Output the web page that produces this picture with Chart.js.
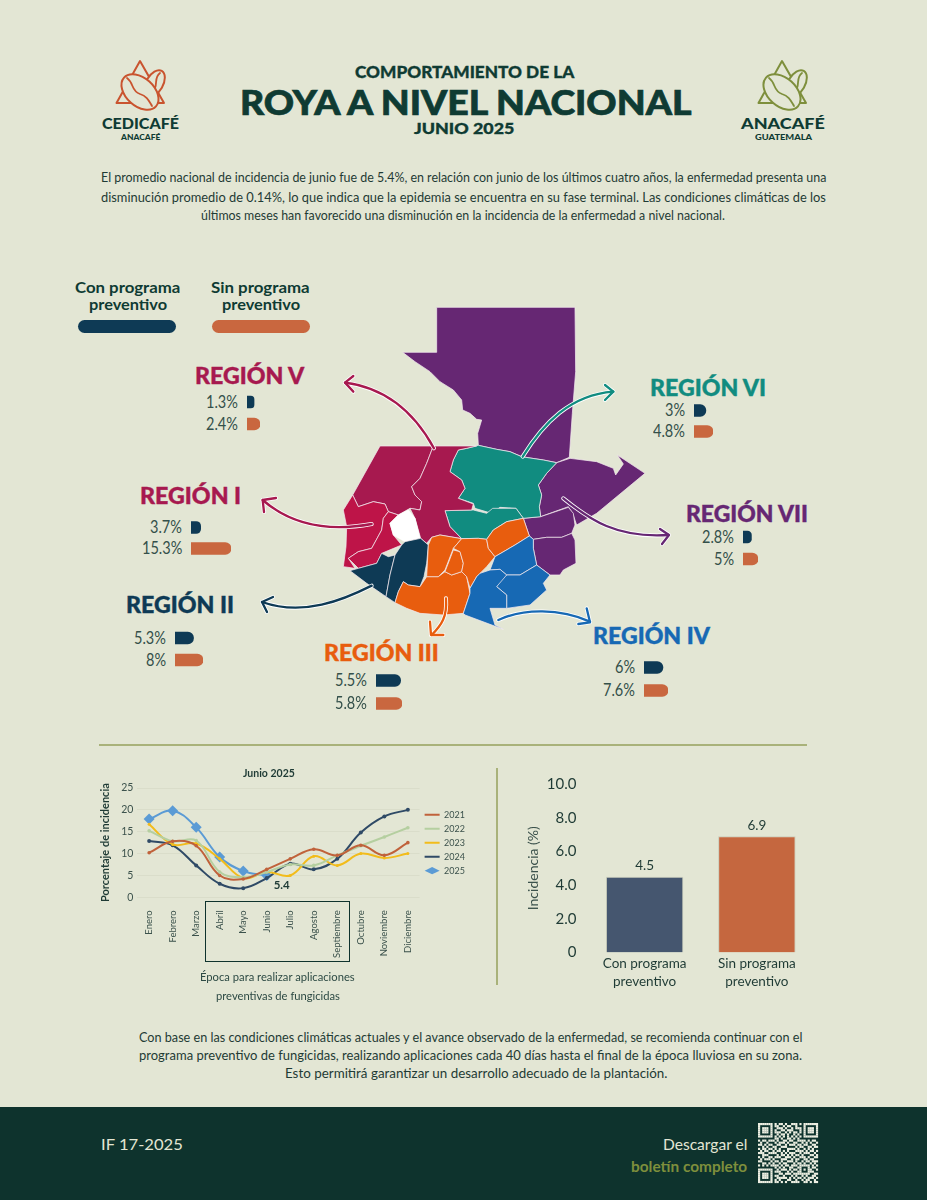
<!DOCTYPE html>
<html><head><meta charset="utf-8">
<style>
html,body{margin:0;padding:0;background:#E3E6D4}
#page{position:relative;width:927px;height:1200px;overflow:hidden;background:#E3E6D4;font-family:Lato,sans-serif;color:#1F3B35}
.t{position:absolute;white-space:nowrap;line-height:1}
canvas{position:absolute}
svg{position:absolute;left:0;top:0}
</style>
<script src="https://cdn.jsdelivr.net/npm/chart.js@4/dist/chart.umd.min.js"></script>
</head><body><div id="page">
<div style="position:absolute;left:0;top:1107px;width:927px;height:93px;background:#0E332D"></div>
<div style="position:absolute;left:99px;top:744px;width:708px;height:1.5px;background:#A9B27A"></div>
<div style="position:absolute;left:496px;top:768px;width:1.5px;height:217px;background:#A9B27A"></div>
<div style="position:absolute;left:205px;top:901px;width:143px;height:59px;border:1.5px solid #0F332D"></div>
<div style="position:absolute;left:78px;top:320px;width:98px;height:13px;border-radius:6.5px;background:#0E3A55"></div>
<div style="position:absolute;left:212px;top:320px;width:98px;height:13px;border-radius:6.5px;background:#C9673F"></div>

<svg width="927" height="1200" viewBox="0 0 927 1200" id="art">
<defs>
<g id="logo" fill="none" stroke-linejoin="round" stroke-linecap="round">
  <path d="M0,0 L24,42 L-23.5,42 Z" stroke-width="2"/>
  <ellipse cx="14.5" cy="22.5" rx="8.5" ry="14.5" transform="rotate(30 14.5 22.5)" fill="#E3E6D4" stroke-width="2"/>
  <path d="M20,12 C12,18 21,26 9,34" stroke-width="1.8"/>
  <ellipse cx="0" cy="31" rx="21.5" ry="14" transform="rotate(42 0 31)" fill="#E3E6D4" stroke-width="2"/>
  <path d="M-13,17 C-6,22 -9,30 0,33 C7,35 9,40 12,45" stroke-width="1.8"/>
</g>
</defs>
<use href="#logo" x="140" y="61" style="stroke:#C9542F"/>
<use href="#logo" x="782" y="61" style="stroke:#7E8F3C"/>
<g transform="translate(330,300) scale(0.33333)" stroke="#F3E9EE" stroke-width="2.2" stroke-linejoin="round">
  <g fill="#662773">
    <polygon points="320,22 735,22 737,215 727,340 718,472 680,488 640,480 600,474 575,470 540,455 500,448 445,436 443,400 455,360 440,358 420,340 398,330 395,300 370,270 330,245 300,215 255,185 218,157 320,157"/>
    <polygon points="680,488 720,475 800,485 850,505 857,525 880,492 862,465 945,520 800,640 740,675 728,640 715,620 632,650 628,620 635,585 625,555 650,520"/>
    <polygon points="580,655 632,650 715,622 730,640 735,675 725,700 695,712 650,712 610,718 598,708"/>
    <polygon points="610,718 650,712 695,712 725,700 735,720 738,790 700,810 690,825 660,825 620,795 610,745"/>
  </g>
  <g fill="#118C80">
    <polygon points="445,436 500,448 540,455 575,470 600,474 640,480 680,488 650,520 625,555 635,585 628,620 632,650 580,655 558,625 510,622 485,640 435,625 430,610 385,595 405,565 395,540 360,515 370,480 385,450 410,445"/>
    <polygon points="345,632 430,630 470,640 488,625 558,625 580,655 530,665 490,690 470,718 445,715 395,716 360,680"/>
  </g>
  <g fill="#A7194F">
    <polygon points="150,438 310,438 290,490 270,535 245,560 255,585 275,605 270,630 240,625 205,645 175,635 165,612 130,605 85,620 68,585"/>
    <polygon points="310,438 440,438 410,445 385,450 370,480 360,515 395,540 405,565 385,595 430,612 425,630 345,632 360,680 395,716 330,705 305,712 290,730 272,715 255,655 240,625 270,630 275,605 255,585 245,560 270,535 290,490"/>
  </g>
  <g fill="#BE1448">
    <polygon points="68,585 85,620 130,605 165,612 175,635 160,655 155,690 125,745 85,755 55,775 75,805 40,800 48,740 50,680 40,630"/>
    <polygon points="175,635 205,645 180,670 190,705 215,735 155,760 140,790 85,805 55,775 85,755 125,745 155,690 160,655"/>
  </g>
  <polygon fill="#FFFFFF" stroke="#FFFFFF" points="235,630 255,655 270,715 225,725 190,705 180,670 205,645"/>
  <g fill="#0E3A55">
    <polygon points="60,812 85,805 140,790 155,760 175,770 195,765 180,825 168,890 110,850"/>
    <polygon points="215,735 225,725 272,715 295,735 290,790 282,830 270,860 235,855 220,845 205,875 195,908 168,890 180,825 195,765"/>
  </g>
  <g fill="#E85D0E">
    <polygon points="205,875 220,845 235,855 270,860 290,830 325,830 345,815 365,825 395,815 410,830 420,880 400,940 340,945 270,940 230,925 195,908"/>
    <polygon points="305,712 330,705 395,716 370,745 345,810 325,830 290,830 295,735"/>
    <polygon points="370,750 390,755 400,790 395,815 365,825 345,815"/>
    <polygon points="395,716 445,715 470,718 475,745 495,770 470,800 440,830 420,865 410,830 395,815 400,790 390,755 370,745"/>
    <polygon points="470,718 490,690 530,665 580,655 598,708 555,735 495,770 475,745"/>
  </g>
  <g fill="#1769B4">
    <polygon points="495,770 555,735 598,708 610,718 610,745 620,795 570,825 530,825 510,808 480,810"/>
    <polygon points="530,825 570,825 620,795 660,825 640,850 650,870 600,915 530,925 530,885 500,860 510,835"/>
    <polygon points="420,865 440,830 450,820 480,810 510,808 530,825 500,860 530,885 530,925 480,925 495,975 520,988 405,945 400,940 420,880"/>
  </g>
</g>
<g transform="translate(330,300) scale(0.33333)" fill="none" stroke-linecap="round" stroke-linejoin="round" id="arrows"></g>
<g id="qr"></g>
</svg>
<canvas id="lineChart" style="left:63px;top:762px" width="412" height="209"></canvas>
<canvas id="barChart" style="left:525px;top:763px" width="288" height="230"></canvas>
</div>
<script>
const months=["Enero","Febrero","Marzo","Abril","Mayo","Junio","Julio","Agosto","Septiembre","Octubre","Noviembre","Diciembre"];
const y2021=[10.2,12.8,11.8,5,4.2,6.4,8.8,11,9.6,11.9,9.6,12.5];
const y2022=[15.2,12.8,13,5.8,4.6,5.8,7.5,7.3,9.6,11.8,13.8,15.9];
const y2023=[16.7,12.1,12.3,8.8,4.4,5.8,5,9.4,7.3,10,9,10];
const y2024=[12.9,11.9,7.3,3.1,2.1,4.4,7.7,6.4,8.8,14.8,18.5,20];
const y2025=[17.9,19.8,16,9.2,6,5,null,null,null,null,null,null];
const lineTicks=[0,5,10,15,20,25];
const programCats=[["Con programa","preventivo"],["Sin programa","preventivo"]];
const programVals=[4.5,6.9];
const regionNames=["REGIÓN I","REGIÓN II","REGIÓN III","REGIÓN IV","REGIÓN V","REGIÓN VI","REGIÓN VII"];
const regionCon=[3.7,5.3,5.5,6,1.3,3,2.8];
const regionSin=[15.3,8,5.8,7.6,2.4,4.8,5];
const regionLabelsCon=["3.7%","5.3%","5.5%","6%","1.3%","3%","2.8%"];
const regionLabelsSin=["15.3%","8%","5.8%","7.6%","2.4%","4.8%","5%"];

/* layout of the region blocks (separate from the data) */
const regionLayout=[
 {hx:190,hy:496,hw:101,c:"#A7194F",bx:191,y1:527,y2:548,len:40},
 {hx:180,hy:605,hw:108,c:"#0E3A55",bx:175,y1:638,y2:660,len:28},
 {hx:381,hy:653,hw:115,c:"#E85D0E",bx:376,y1:680,y2:703,len:26},
 {hx:651,hy:636,hw:117,c:"#1769B4",bx:644,y1:667,y2:690,len:24},
 {hx:249,hy:376,hw:109,c:"#A7194F",bx:247,y1:402,y2:424,len:13},
 {hx:708,hy:388,hw:116,c:"#118C80",bx:694,y1:410,y2:431,len:19},
 {hx:747,hy:514,hw:122,c:"#662773",bx:743,y1:537,y2:559,len:15}
];
const page=document.getElementById('page');
function txt(s,o){
  const e=document.createElement('div');e.className='t';e.textContent=s;
  e.style.fontSize=o.size+'px';e.style.fontWeight=o.weight||400;e.style.color=o.color||'#1F3B35';
  if(o.bold)e.style.webkitTextStroke=o.bold+'px '+(o.color||'#1F3B35');
  page.appendChild(e);
  const w=e.offsetWidth,a=o.a||'c';
  const target=o.w||(o.sx?w*o.sx:w);
  const left=a==='l'?o.x:a==='r'?o.x-target:o.x-target/2;
  e.style.left=left+'px';e.style.top=(o.y-o.size/2)+'px';
  e.style.transformOrigin='left center';
  if(target!==w)e.style.transform='scaleX('+(target/w)+')';
  return e;
}
const H='#0F3B33';
txt("COMPORTAMIENTO DE LA",{x:464,y:72,size:16.5,weight:900,color:H,w:219,bold:.3});
txt("ROYA A NIVEL NACIONAL",{x:465,y:101,size:35,weight:900,color:H,w:451,bold:.7});
txt("JUNIO 2025",{x:464,y:129,size:14.5,weight:900,color:H,w:101,bold:.3});
txt("CEDICAFÉ",{x:140,y:123,size:15,weight:900,color:H,w:77});
txt("ANACAFÉ",{x:140,y:137,size:8,weight:900,color:H,w:39});
txt("ANACAFÉ",{x:783,y:123,size:15,weight:900,color:H,w:84});
txt("GUATEMALA",{x:783,y:137,size:8,weight:900,color:H,w:57});
const bc='#1F3B35';
txt("El promedio nacional de incidencia de junio fue de 5.4%, en relación con junio de los últimos cuatro años, la enfermedad presenta una",{x:101,a:'l',y:177,size:13,w:725,color:bc});
txt("disminución promedio de 0.14%, lo que indica que la epidemia se encuentra en su fase terminal. Las condiciones climáticas de los",{x:101,a:'l',y:197,size:13,w:725,color:bc});
txt("últimos meses han favorecido una disminución en la incidencia de la enfermedad a nivel nacional.",{x:201,a:'l',y:215,size:13,w:524,color:bc});
txt("Con programa",{x:127.5,y:288,size:15.5,weight:700,color:H,w:105});
txt("preventivo",{x:127.5,y:305,size:15.5,weight:700,color:H,w:78});
txt("Sin programa",{x:260.5,y:288,size:15.5,weight:700,color:H,w:99});
txt("preventivo",{x:260.5,y:305,size:15.5,weight:700,color:H,w:78});
txt("Con base en las condiciones climáticas actuales y el avance observado de la enfermedad, se recomienda continuar con el",{x:139,a:'l',y:1037,size:13,w:663,color:bc});
txt("programa preventivo de fungicidas, realizando aplicaciones cada 40 días hasta el final de la época lluviosa en su zona.",{x:139,a:'l',y:1055,size:13,w:663,color:bc});
txt("Esto permitirá garantizar un desarrollo adecuado de la plantación.",{x:285,a:'l',y:1073,size:13,w:383,color:bc});
txt("Junio 2025",{x:269,y:773,size:10.5,weight:700,color:bc});
txt("Época para realizar aplicaciones",{x:277.5,y:976,size:11,color:'#2d4a44',w:155});
txt("preventivas de fungicidas",{x:277.5,y:995,size:11,color:'#2d4a44',w:124});
txt("IF 17-2025",{x:101,a:'l',y:1144,size:16,color:'#E3E6D4',w:82});
txt("Descargar el",{x:747,a:'r',y:1144,size:15,color:'#E3E6D4',w:84});
txt("boletín completo",{x:747,a:'r',y:1166,size:15,weight:700,color:'#7E8F3C',w:116});

/* arrows */
const arrows=[
 {c:"#A7194F",d:"M312,445 C260,350 180,265 45,248",h:"M70,228 L45,248 L70,275"},
 {c:"#118C80",d:"M578,470 C640,370 720,285 850,275",h:"M825,255 L850,275 L825,300"},
 {c:"#662773",d:"M700,595 C780,660 860,715 1015,705",h:"M990,687 L1017,705 L996,732"},
 {c:"#A7194F",d:"M125,672 C0,695 -110,680 -202,600",h:"M-162,594 L-202,600 L-198,636"},
 {c:"#0E3A55",d:"M125,857 C40,900 -80,950 -204,906",h:"M-171,891 L-204,906 L-189,936"},
 {c:"#E85D0E",d:"M348,895 C352,950 335,975 305,1005",h:"M340,1005 L303,1005 L300,965"},
 {c:"#1769B4",d:"M505,960 C580,925 690,925 780,965",h:"M770,925 L780,967 L745,972"}
];
const ag=document.getElementById('arrows');
let am='';
for(const a of arrows){
  am+=`<path d="${a.d}" stroke="#fff" stroke-width="12"/><path d="${a.h}" stroke="#fff" stroke-width="12"/>`;
}
for(const a of arrows){
  am+=`<path d="${a.d}" stroke="${a.c}" stroke-width="7"/><path d="${a.h}" stroke="${a.c}" stroke-width="7"/>`;
}
ag.innerHTML=am;

/* QR decoration */
const qrRows=["11111110101101001110101111111","10000010110010110010001000001","10111010011101001011101011101","10111010100110111000101011101","10111010111001010110101011101","10000010010110100101001000001","11111110101010101010101111111","00000000110100110101000000000","10110111010011011001111010110","01001000101110100110010101001","11010110011001011101101100110","00101001100111000010110011011","10110110101000111101001010100","01011001011010100011110101101","11100111100101011100101110010","00111000010110101011010001101","10100110111001110100111010011","01011101000111001011001101100","11000010110100111010010110111","00110101001011000101101001010","10101011110101101110111110101","00000000101010011001100010110","11111110010111010110101011001","10000010111000101001100011100","10111010001101110111111110011","10111010110010001010010100110","10111010011111010101101011101","10000010101000110010010110010","11111110110101001111001101011"];
let qm='';const cs=60/29;
qrRows.forEach((r,i)=>{[...r].forEach((v,j)=>{if(v==='1')qm+=`<rect x="${758+j*cs}" y="${1123+i*cs}" width="${cs+.1}" height="${cs+.1}" fill="#EDEFE2"/>`;});});
document.getElementById('qr').innerHTML=qm;

/* regions */
Chart.defaults.font.family='Lato, sans-serif';
Chart.defaults.animation=false;
regionNames.forEach((n,i)=>{
  const L=regionLayout[i];
  txt(n,{x:L.hx,y:L.hy,size:22.5,weight:900,color:L.c,w:L.hw,bold:.4});
  txt(regionLabelsCon[i],{x:L.bx-9,a:'r',y:L.y1,size:16.5,weight:400,sx:.88,color:'#34504A'});
  txt(regionLabelsSin[i],{x:L.bx-9,a:'r',y:L.y2,size:16.5,weight:400,sx:.88,color:'#34504A'});
  const gap=L.y2-L.y1, c=document.createElement('canvas');
  c.width=L.len;c.height=gap*2;c.style.left=L.bx+'px';c.style.top=(L.y1-gap/2)+'px';
  page.appendChild(c);
  new Chart(c,{type:'bar',data:{labels:["Con programa","Sin programa"],datasets:[{data:[regionCon[i],regionSin[i]],backgroundColor:["#0E3A55","#C9673F"],barThickness:12,borderRadius:{topLeft:0,bottomLeft:0,topRight:6,bottomRight:6},borderSkipped:false}]},
   options:{indexAxis:'y',responsive:false,layout:{padding:0},plugins:{legend:{display:false},tooltip:{enabled:false}},
   scales:{x:{display:false,min:0,max:Math.max(regionCon[i],regionSin[i])},y:{display:false}}}});
});

/* line chart */
const tickColor='#3c524c';
const labelPlugin={id:'pt',afterDatasetsDraw(ch){
  const p=ch.getDatasetMeta(4).data[5],x=ch.ctx;
  x.save();x.font='700 11.5px Lato, sans-serif';x.fillStyle='#1F3B35';x.textAlign='center';x.textBaseline='middle';
  x.fillText('5.4',p.x+15,p.y+10);x.restore();}};
function ds(label,data,color,r){return {label,data,borderColor:color,backgroundColor:color,borderWidth:2,pointRadius:r,pointBackgroundColor:color,pointBorderWidth:0,tension:.4};}
new Chart(document.getElementById('lineChart'),{type:'line',plugins:[labelPlugin],
 data:{labels:months,datasets:[ds('2021',y2021,'#C0623B',1.8),ds('2022',y2022,'#B5CFA0',1.8),ds('2023',y2023,'#F2BC1B',1.5),ds('2024',y2024,'#2F4A66',2),
  {label:'2025',data:y2025,borderColor:'#5B9BD5',backgroundColor:'#5B9BD5',borderWidth:2,pointRadius:5.5,pointStyle:'rectRot',pointBackgroundColor:'#5B9BD5',pointBorderWidth:0,tension:.4,spanGaps:false}]},
 options:{responsive:false,layout:{padding:{left:36,right:0,top:26,bottom:0}},
  plugins:{tooltip:{enabled:false},
   legend:{position:'right',fullSize:false,labels:{color:tickColor,font:{size:9},boxWidth:15,boxHeight:5,padding:5,usePointStyle:true,pointStyleWidth:15,
    generateLabels(ch){return ch.data.datasets.map((d,i)=>({text:d.label,datasetIndex:i,fontColor:tickColor,strokeStyle:d.borderColor,fillStyle:d.borderColor,lineWidth:i<4?2:0,pointStyle:i<4?'line':'rectRot',hidden:false}));}}}},
  scales:{
   x:{offset:true,grid:{display:false,drawTicks:false},border:{display:false},ticks:{color:tickColor,font:{size:9.5},minRotation:90,maxRotation:90,autoSkip:false,padding:13}},
   y:{min:0,max:25,afterBuildTicks(s){s.ticks=lineTicks.map(v=>({value:v}));},grid:{color:'#D8DBC8',lineWidth:.8,drawTicks:false},border:{display:false},
    ticks:{color:tickColor,font:{size:10.5},padding:4},
    title:{display:true,text:'Porcentaje de incidencia',color:'#1F3B35',font:{size:11,weight:'bold'},padding:{top:0,bottom:5}}}
  }}});

/* bar chart */
const valPlugin={id:'val',afterDatasetsDraw(ch){
  const x=ch.ctx;x.save();x.font='13.5px Lato, sans-serif';x.fillStyle='#1F3B35';x.textAlign='center';x.textBaseline='bottom';
  ch.getDatasetMeta(0).data.forEach((b,i)=>x.fillText(programVals[i].toFixed(1),b.x,b.y-4));x.restore();}};
new Chart(document.getElementById('barChart'),{type:'bar',plugins:[valPlugin],
 data:{labels:programCats,datasets:[{data:programVals,backgroundColor:['#45566F','#C5673F'],borderColor:'#C9CCBA',borderWidth:1,barPercentage:.69,categoryPercentage:1}]},
 options:{responsive:false,layout:{padding:{top:9.4,right:0,bottom:0,left:0}},plugins:{legend:{display:false},tooltip:{enabled:false}},
  scales:{
   x:{grid:{display:false,drawTicks:false},border:{display:false},ticks:{color:'#1F3B35',font:{size:13.5,lineHeight:1.35},padding:2,maxRotation:0}},
   y:{min:0,max:10,afterFit(s){s.width=63.5;},grid:{display:false,drawTicks:false},border:{display:false},
    ticks:{stepSize:2,color:'#1F3B35',font:{size:15},padding:12,callback:v=>v===0?'0':v.toFixed(1)},
    title:{display:true,text:'Incidencia (%)',color:'#3c524c',font:{size:14},padding:{top:0,bottom:6}}}
  }}});
</script></body></html>
